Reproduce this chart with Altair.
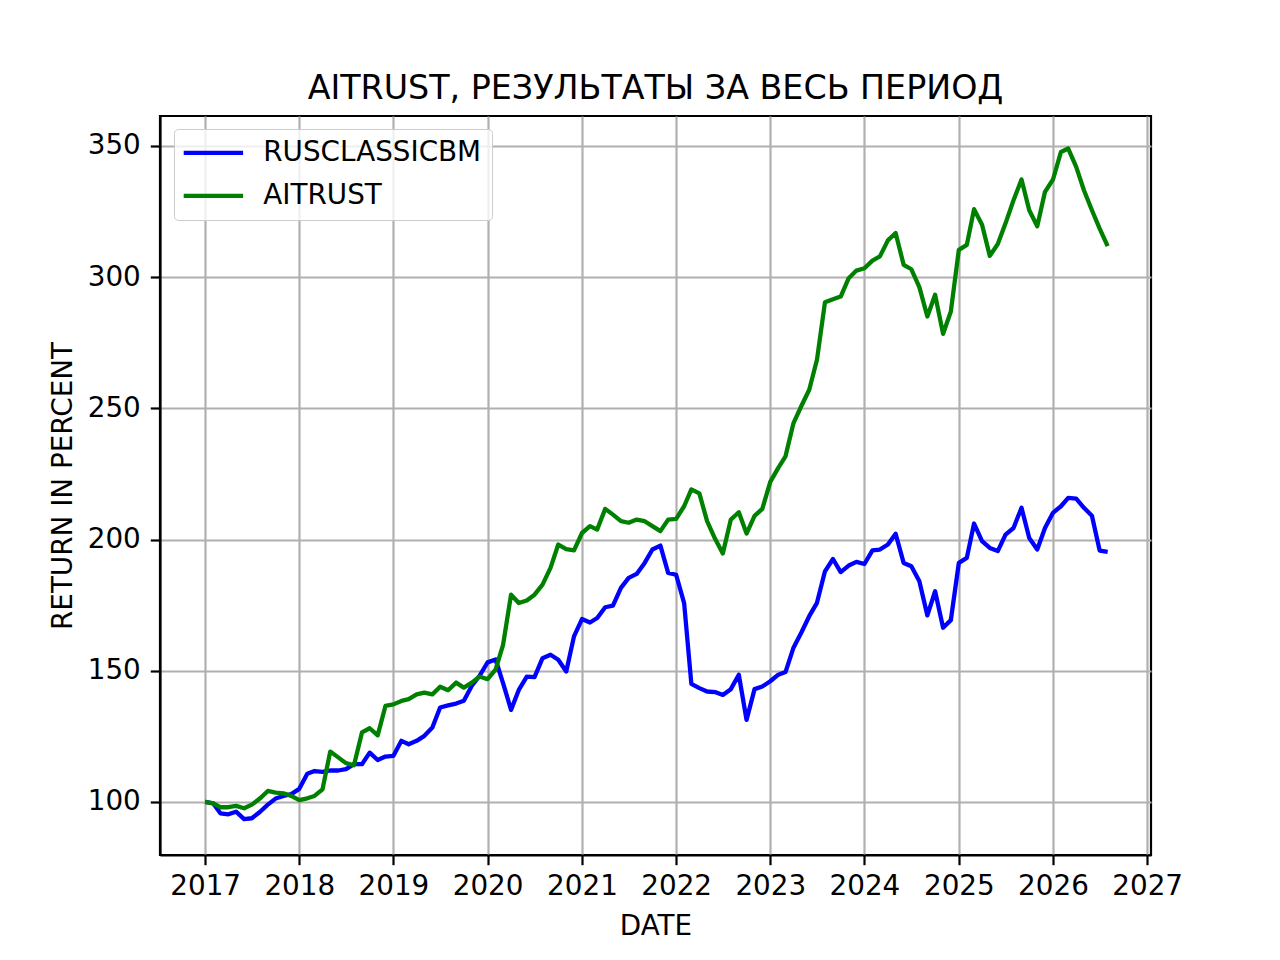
import altair as alt
import pandas as pd

SERIES = ["RUSCLASSICBM", "AITRUST"]
COLORS = ["#0000ff", "#008000"]
START = "2017-01-01"
N_MONTHS = 116

rusclassicbm = [
    100, 99.5, 95.7, 95.3, 96.3, 93.5, 93.8, 96.2, 99, 101.3, 102.3, 103,
    105, 110.8, 111.8, 111.5, 112, 112, 112.5, 114.4, 114.4, 118.8, 116, 117.3,
    117.6, 123.3, 122, 123.3, 125.2, 128.4, 136, 136.8, 137.5, 138.6, 144.3, 148.1,
    153.2, 154.3, 145.3, 135.1, 142.7, 147.8, 147.6, 154.8, 156.1, 154.2, 149.7, 163.1,
    169.7, 168.4, 170.1, 174.2, 174.8, 181.6, 185.4, 186.9, 191.1, 196.2, 197.7, 187.3,
    186.6, 175.8, 145, 143.4, 142.1, 141.9, 140.8, 143, 148.5, 131.3, 143, 144,
    146, 148.5, 149.5, 158.8, 164.5, 170.8, 175.9, 187.9, 192.6, 187.6, 190.1, 191.5,
    190.7, 195.9, 196.2, 198.1, 202.2, 191.1, 189.8, 184.1, 171.1, 180.3, 166.4, 169.3,
    191.1, 193, 206.1, 199.4, 196.8, 195.6, 201.9, 204.4, 212.1, 200.6, 196.2, 204.4,
    210.2, 212.7, 215.9, 215.6, 212.1, 209.1, 195.8, 195.3,
]

aitrust = [
    100, 99.5, 98, 98, 98.5, 97.6, 99, 101.3, 104.2, 103.6, 103.3, 102.3,
    100.7, 101.4, 102.3, 104.8, 119.2, 117, 114.8, 114, 126.5, 128.1, 125.4, 136.6,
    137.2, 138.5, 139.2, 141, 141.7, 141, 143.9, 142.6, 145.5, 143.6, 145.5, 147.8,
    146.8, 150.4, 159.9, 179, 175.8, 176.8, 179, 182.8, 189.2, 198.1, 196.4, 195.9,
    202.5, 205.1, 203.8, 211.7, 209.5, 207, 206.4, 207.6, 207, 205.1, 203.2, 207.6,
    207.9, 212.7, 219.1, 217.6, 207, 200.3, 194.7, 207.6, 210.4, 202.3, 209, 211.7,
    222, 227.3, 231.7, 244.4, 250.8, 257.1, 268.5, 290.4, 291.6, 292.6, 299.6, 302.5,
    303.4, 306.3, 307.9, 314, 316.8, 304.7, 303, 296.2, 285, 293.3, 278.4, 286.9,
    310.4, 312.3, 325.9, 320, 308.1, 312.6, 320.5, 329.3, 337.2, 325.5, 319.4, 332.5,
    337.2, 347.7, 349, 342, 333.1, 325.5, 318.5, 311.8,
]

Y_TICKS = [100, 150, 200, 250, 300, 350]

dates = list(pd.date_range(START, periods=N_MONTHS, freq="MS").strftime("%Y-%m-%d"))
df = pd.DataFrame({
    "date": dates + dates,
    "value": rusclassicbm + aitrust,
    "series": [SERIES[0]] * N_MONTHS + [SERIES[1]] * N_MONTHS,
})

FONT = "DejaVu Sans"
FS = 27.8

chart = alt.Chart(df).mark_line(strokeWidth=4.3, strokeJoin="round").encode(
    x=alt.X(
        "date:T",
        scale=alt.Scale(
            type="utc",
            domain=[alt.DateTime(year=2016, month=7, date=10, utc=True),
                    alt.DateTime(year=2027, month=1, date=16, utc=True)],
            nice=False,
        ),
        axis=alt.Axis(
            title="DATE", format="%Y",
            tickCount={"interval": "year", "step": 1},
            labelPadding=8, titlePadding=12,
            labelFlush=False, labelOverlap=False, labelBound=False,
        ),
    ),
    y=alt.Y(
        "value:Q",
        scale=alt.Scale(domain=[79.8, 361.4], nice=False, zero=False),
        axis=alt.Axis(title="RETURN IN PERCENT", values=Y_TICKS,
                      labelPadding=10, titlePadding=10),
    ),
    color=alt.Color(
        "series:N",
        scale=alt.Scale(domain=SERIES, range=COLORS),
        legend=alt.Legend(
            title=None, orient="none", legendX=14, legendY=13,
            symbolType="M-3,0L3,0", symbolSize=392, symbolStrokeWidth=4.3,
            symbolOffset=15.5, labelOffset=36,
            labelFont=FONT, labelFontSize=FS, labelColor="black", labelLimit=400,
            padding=10, rowPadding=14,
            fillColor="rgba(255,255,255,0.8)", strokeColor="#cccccc",
            cornerRadius=4,
        ),
    ),
    order=alt.value(0),
).properties(
    width=991,
    height=739,
    autosize=alt.AutoSizeParams(type="none"),
    padding={"left": 152, "top": 108, "right": 100, "bottom": 90},
    title=alt.TitleParams(
        "AITRUST, РЕЗУЛЬТАТЫ ЗА ВЕСЬ ПЕРИОД",
        font=FONT, fontSize=33.3, fontWeight="normal", color="black",
        offset=15, dy=31, baseline="alphabetic", anchor="middle",
    ),
).configure(
    background="white",
).configure_view(
    stroke="black", strokeWidth=2.2,
).configure_axis(
    domainColor="black", domainWidth=2.2,
    tickColor="black", tickWidth=2.2, tickSize=9.7,
    gridColor="#b0b0b0", gridWidth=2.2,
    labelFont=FONT, labelFontSize=FS, labelColor="black",
    titleFont=FONT, titleFontSize=FS, titleFontWeight="normal", titleColor="black",
)

chart.save("out.html", embed_options={"renderer": "svg", "actions": False})
